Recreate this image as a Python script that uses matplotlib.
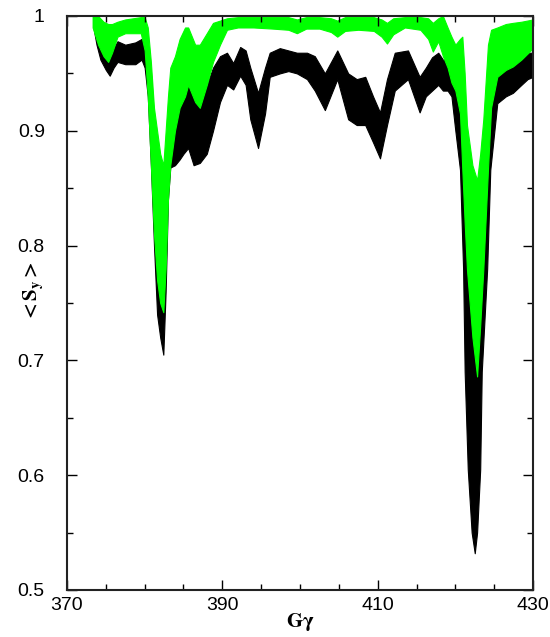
import matplotlib
matplotlib.use("Agg")
import matplotlib.pyplot as plt
from matplotlib.ticker import MultipleLocator

plt.rcParams['font.family'] = ['Liberation Sans', 'DejaVu Sans']
plt.rcParams['mathtext.fontset'] = 'stix'

# black band: G gamma, lower and upper envelope of <S_y>
x_black = [373.4, 373.8, 374.3, 375.0, 375.5, 376.0, 376.5, 377.5, 378.8, 379.6,
           380.0, 380.4, 380.8, 381.2, 381.6, 382.0, 382.4, 382.7, 383.0, 383.3,
           383.9, 384.5, 385.0, 385.6, 386.3, 387.1, 388.0, 388.8, 389.7, 390.6,
           391.4, 392.3, 393.0, 393.6, 394.6, 395.5, 396.1, 397.4, 398.5, 399.6,
           400.9, 401.9, 403.2, 404.8, 406.2, 407.3, 408.4, 409.4, 410.3, 411.2,
           412.2, 413.9, 415.4, 416.2, 417.0, 417.8, 418.4, 419.0, 419.5, 420.0,
           420.6, 421.0, 421.2, 421.6, 422.1, 422.5, 422.8, 423.2, 423.4, 424.1,
           424.5, 425.4, 426.5, 427.4, 428.5, 429.3, 430.0]
black_lo = [0.990, 0.975, 0.962, 0.953, 0.948, 0.955, 0.960, 0.958, 0.958, 0.962,
            0.955, 0.930, 0.870, 0.800, 0.740, 0.720, 0.705, 0.760, 0.840, 0.868,
            0.870, 0.875, 0.880, 0.885, 0.870, 0.872, 0.880, 0.900, 0.925, 0.940,
            0.936, 0.948, 0.940, 0.910, 0.885, 0.915, 0.947, 0.950, 0.952, 0.950,
            0.945, 0.935, 0.918, 0.945, 0.910, 0.905, 0.905, 0.890, 0.876, 0.905,
            0.935, 0.945, 0.916, 0.930, 0.935, 0.940, 0.935, 0.935, 0.930, 0.900,
            0.866, 0.780, 0.690, 0.605, 0.550, 0.532, 0.550, 0.605, 0.690, 0.780,
            0.866, 0.924, 0.930, 0.933, 0.940, 0.945, 0.947]
black_hi = [1.000, 0.995, 0.985, 0.972, 0.965, 0.972, 0.978, 0.975, 0.977, 0.980,
            0.978, 0.970, 0.950, 0.910, 0.860, 0.820, 0.800, 0.850, 0.900, 0.930,
            0.940, 0.945, 0.952, 0.957, 0.945, 0.927, 0.940, 0.955, 0.965, 0.968,
            0.959, 0.973, 0.970, 0.955, 0.933, 0.955, 0.968, 0.972, 0.970, 0.968,
            0.968, 0.965, 0.950, 0.970, 0.950, 0.945, 0.947, 0.930, 0.916, 0.945,
            0.968, 0.970, 0.947, 0.955, 0.964, 0.968, 0.962, 0.960, 0.955, 0.950,
            0.940, 0.930, 0.910, 0.880, 0.840, 0.820, 0.830, 0.860, 0.880, 0.920,
            0.940, 0.955, 0.960, 0.962, 0.965, 0.968, 0.968]

# green band
x_green = [373.3, 374.0, 374.7, 375.3, 375.8, 376.5, 377.5, 378.5, 379.5, 380.0,
           380.4, 380.8, 381.2, 381.6, 382.0, 382.4, 382.7, 383.0, 383.3, 383.9,
           384.5, 385.2, 385.6, 386.5, 387.1, 388.0, 388.8, 389.7, 390.6, 392.0,
           394.0, 396.5, 398.5, 399.6, 400.8, 402.5, 404.0, 404.8, 405.8, 407.5,
           409.5, 410.5, 411.2, 412.0, 413.5, 415.5, 416.5, 417.1, 417.8, 418.4,
           419.0, 419.5, 420.0, 420.6, 420.9, 421.2, 421.5, 422.2, 422.8, 423.2,
           423.6, 424.2, 424.6, 425.4, 426.5, 427.4, 428.5, 430.0]
green_lo = [0.990, 0.975, 0.965, 0.960, 0.968, 0.982, 0.985, 0.985, 0.985, 0.970,
            0.930, 0.870, 0.810, 0.770, 0.750, 0.742, 0.780, 0.840, 0.870, 0.900,
            0.920, 0.930, 0.940, 0.925, 0.920, 0.940, 0.960, 0.975, 0.988, 0.990,
            0.990, 0.989, 0.988, 0.985, 0.989, 0.989, 0.986, 0.982, 0.987, 0.988,
            0.987, 0.982, 0.976, 0.984, 0.990, 0.988, 0.980, 0.969, 0.978, 0.965,
            0.955, 0.942, 0.935, 0.915, 0.866, 0.820, 0.779, 0.720, 0.686, 0.730,
            0.779, 0.866, 0.920, 0.947, 0.953, 0.956, 0.962, 0.972]
green_hi = [1.000, 1.000, 0.995, 0.993, 0.993, 0.995, 0.997, 0.998, 0.999, 0.999,
            0.990, 0.960, 0.920, 0.900, 0.880, 0.870, 0.900, 0.930, 0.955, 0.965,
            0.980, 0.990, 0.990, 0.975, 0.975, 0.985, 0.994, 0.996, 0.998, 0.999,
            0.999, 0.999, 0.999, 0.997, 0.999, 0.999, 0.998, 0.996, 0.999, 0.999,
            0.999, 0.997, 0.994, 0.998, 0.999, 0.999, 0.998, 0.994, 0.998, 1.000,
            0.990, 0.982, 0.975, 0.980, 0.982, 0.950, 0.905, 0.870, 0.857, 0.880,
            0.910, 0.975, 0.988, 0.990, 0.993, 0.994, 0.995, 0.997]

x_ticks = [370, 390, 410, 430]
y_ticks = [0.5, 0.6, 0.7, 0.8, 0.9, 1.0]
y_ticklabels = ['0.5', '0.6', '0.7', '0.8', '0.9', '1']

fig = plt.figure(figsize=(5.5, 6.37), dpi=100)
ax = fig.add_axes([0.1218, 0.0738, 0.8473, 0.9011])

ax.fill_between(x_black, black_lo, black_hi, color='black', lw=0.8)
ax.fill_between(x_green, green_lo, green_hi, color='#00ff00', lw=0.8)

ax.set_xlim(370, 430)
ax.set_ylim(0.5, 1.0)
ax.set_xticks(x_ticks)
ax.set_xticklabels([str(t) for t in x_ticks])
ax.xaxis.set_minor_locator(MultipleLocator(5))
ax.set_yticks(y_ticks)
ax.set_yticklabels(y_ticklabels)
ax.yaxis.set_minor_locator(MultipleLocator(0.05))
ax.tick_params(which='both', direction='in', top=True, right=True, width=1.0, labelsize=14)
ax.tick_params(which='major', length=7)
ax.tick_params(which='minor', length=4)
ax.tick_params(axis='y', pad=16)
ax.tick_params(axis='x', pad=5)
for s in ax.spines.values():
    s.set_linewidth(1.5)
    s.set_color('#222222')

ax.set_xlabel(r'$\mathbf{G\gamma}$', fontsize=15)
ax.xaxis.set_label_coords(0.5, -0.056)
ax.xaxis.label.set_va('center')
ax.set_ylabel(r'$\mathbf{<S_y>}$', fontsize=15)
ax.yaxis.set_label_coords(-0.071, 0.52)
ax.yaxis.label.set_va('center')

fig.savefig('out.png', dpi=100)
